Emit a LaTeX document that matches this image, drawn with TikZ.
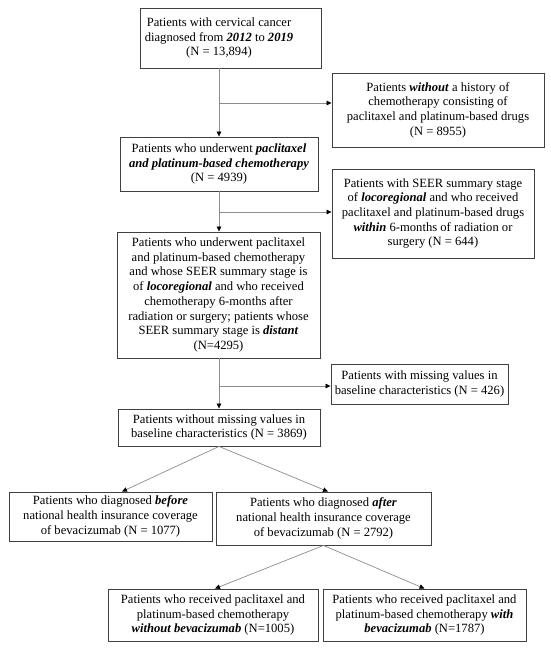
\documentclass[tikz,border=0pt]{standalone}
\usepackage{fontspec}
\setmainfont{Liberation Serif}
\usetikzlibrary{arrows.meta,calc}
\newcommand{\bfit}[1]{\textbf{\textit{#1}}}
\begin{document}
\begin{tikzpicture}[x=1pt,y=-1pt,
  box/.style={draw=black!75, line width=0.9pt, align=center, inner sep=0pt,
    font=\fontsize{12.6}{14.7}\selectfont},
  txt/.style={align=center, inner sep=0pt, font=\fontsize{12.6}{14.7}\selectfont},
  conn/.style={draw=black!45, line width=0.7pt},
  arr/.style={conn, -{Triangle[length=5pt,width=4.5pt,color=black]}}]
\useasboundingbox (0,0) rectangle (550,651);

% boxes
\node[box, minimum width=181, minimum height=60] (b1) at (230.5,38) {};
\node[txt] (t1) at (219,38) {Patients with cervical cancer\\ diagnosed from \bfit{2012} to \bfit{2019}\\ (N = 13,894)};

\node[box, minimum width=212, minimum height=74] (wo) at (438,110)
  {Patients \bfit{without} a history of\\ chemotherapy consisting of\\ paclitaxel and platinum-based drugs\\ (N = 8955)};

\node[box, minimum width=198, minimum height=54] (b2) at (219,164)
  {Patients who underwent \bfit{paclitaxel}\\ \bfit{and platinum-based chemotherapy}\\ (N = 4939)};

\node[box, minimum width=202, minimum height=89] (seer) at (433,213.5)
  {Patients with SEER summary stage\\ of \bfit{locoregional} and who received\\ paclitaxel and platinum-based drugs\\ \bfit{within} 6-months of radiation or\\ surgery (N = 644)};

\node[box, minimum width=203, minimum height=126] (b3) at (218.5,295)
  {Patients who underwent paclitaxel\\ and platinum-based chemotherapy\\ and whose SEER summary stage is\\ of \bfit{locoregional} and who received\\ chemotherapy 6-months after\\ radiation or surgery; patients whose\\ SEER summary stage is \bfit{distant}\\ (N=4295)};

\node[box, minimum width=177, minimum height=40] (miss) at (419.5,384)
  {Patients with missing values in\\ baseline characteristics (N = 426)};

\node[box, minimum width=202, minimum height=37] (b4) at (219,427.5)
  {Patients without missing values in\\ baseline characteristics (N = 3869)};

\node[box, minimum width=203, minimum height=49] (before) at (110.5,516.5)
  {Patients who diagnosed \bfit{before}\\ national health insurance coverage\\ of bevacizumab (N = 1077)};

\node[box, minimum width=215, minimum height=53] (after) at (323.5,518.5)
  {Patients who diagnosed \bfit{after}\\ national health insurance coverage\\ of bevacizumab (N = 2792)};

\node[box, minimum width=210, minimum height=52] (wobev) at (213,615)
  {Patients who received paclitaxel and\\ platinum-based chemotherapy\\ \bfit{without bevacizumab} (N=1005)};

\node[box, minimum width=203, minimum height=52] (wbev) at (424.5,615)
  {Patients who received paclitaxel and\\ platinum-based chemotherapy \bfit{with}\\ \bfit{bevacizumab} (N=1787)};

% junctions
\coordinate (j1) at (219,103);
\coordinate (j2) at (219,212);
\coordinate (j3) at (219,386);

% main flow
\draw[arr] (b2.north |- b1.south) -- (b2.north);
\draw[arr] (j1) -- (j1 -| wo.west);
\draw[arr] (b2.south) -- (b3.north -| b2.south);
\draw[arr] (j2) -- (j2 -| seer.west);
\draw[arr] (b4.north |- b3.south) -- (b4.north);
\draw[arr] (j3) -- (j3 -| miss.west);

% branches
\draw[arr] (b4.south) -- ([xshift=11.5]before.north);
\draw[arr] (b4.south) -- ([xshift=4.5]after.north);
\draw[arr] (after.south) -- ([xshift=2]wobev.north);
\draw[arr] (after.south) -- (wbev.north);
\end{tikzpicture}
\end{document}
